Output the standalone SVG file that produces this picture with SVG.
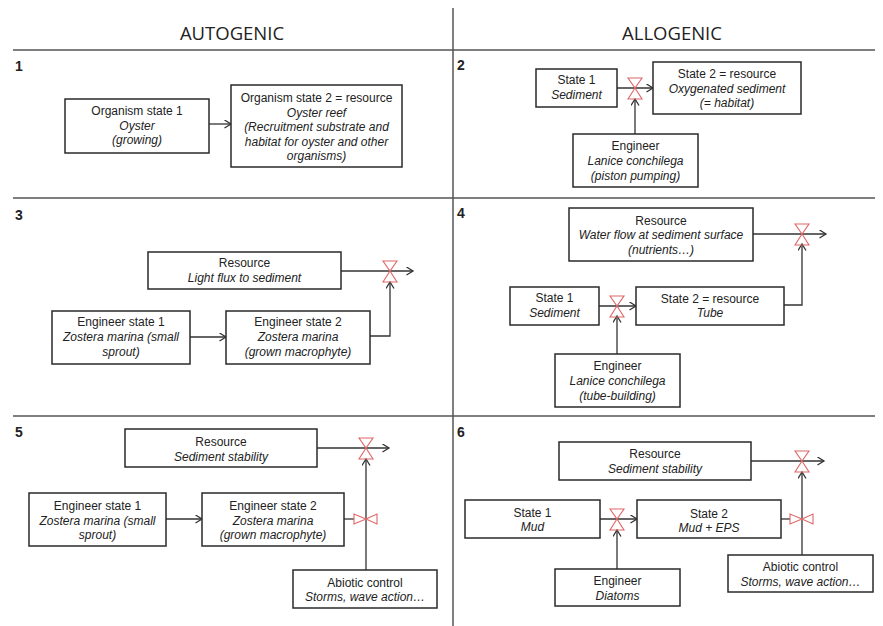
<svg xmlns="http://www.w3.org/2000/svg" xmlns:xlink="http://www.w3.org/1999/xlink" width="883" height="626" viewBox="0 0 883 626">
<style>
.bg{fill:#fff}
.box{fill:#fff;stroke:#2a2a2a;stroke-width:1.5}
.t{font-family:"Liberation Sans",Arial,sans-serif;font-size:12px;fill:#222;text-anchor:middle}
.i{font-style:italic}
.hd{font-family:"Open Sans","Liberation Sans",sans-serif;font-size:18.5px;fill:#222;text-anchor:middle}
.num{font-family:"Liberation Sans",Arial,sans-serif;font-size:14px;font-weight:bold;fill:#222}
.sep{stroke:#555;stroke-width:1.5;fill:none}
.c{stroke:#333;stroke-width:1.3;fill:none}
.a{marker-end:url(#arr)}
.valve{fill:none;stroke:#e06666;stroke-width:1.1}
</style>
<defs>
<marker id="arr" markerWidth="10" markerHeight="10" refX="7" refY="4" orient="auto" markerUnits="userSpaceOnUse">
<path d="M0.5,0 L7,4 L0.5,8" fill="none" stroke="#333" stroke-width="1.3"/>
</marker>
<g id="vv"><path class="valve" d="M-7,-10 L7,-10 L0,0 Z M0,0 L-7,11 L7,11 Z"/></g>
<g id="hv"><path class="valve" d="M-12,-5 L-12,5 L0,0 Z M0,0 L11,-5 L11,5 Z"/></g>
</defs>
<rect class="bg" x="0" y="0" width="883" height="626"/>

<g id="layout">
<line class="sep" x1="453" y1="8" x2="453" y2="626"/>
<line class="sep" x1="13" y1="50" x2="875" y2="50"/>
<line class="sep" x1="13" y1="198" x2="875" y2="198"/>
<line class="sep" x1="13" y1="416" x2="875" y2="416"/>
<text class="hd" x="232" y="40">AUTOGENIC</text>
<text class="hd" x="672" y="40">ALLOGENIC</text>
<text class="num" x="15" y="71">1</text>
<text class="num" x="457" y="70">2</text>
<text class="num" x="15" y="220">3</text>
<text class="num" x="457" y="218">4</text>
<text class="num" x="15" y="437">5</text>
<text class="num" x="457" y="437">6</text>
</g>

<g id="connectors">
<!-- panel 1 -->
<line class="c a" x1="209" y1="124" x2="231" y2="124"/>
<!-- panel 2 -->
<line class="c a" x1="617" y1="88" x2="653" y2="88"/>
<line class="c a" x1="635" y1="134" x2="635" y2="99"/>
<!-- panel 3 -->
<line class="c a" x1="190" y1="337" x2="226" y2="337"/>
<line class="c a" x1="341" y1="271" x2="413" y2="271"/>
<path class="c a" d="M370,336 H390 V282"/>
<!-- panel 4 -->
<line class="c a" x1="753" y1="234" x2="826" y2="234"/>
<line class="c a" x1="599" y1="306" x2="636" y2="306"/>
<path class="c a" d="M784,305 H802 V244"/>
<line class="c a" x1="617" y1="354" x2="617" y2="316"/>
<!-- panel 5 -->
<line class="c a" x1="317" y1="448" x2="389" y2="448"/>
<line class="c a" x1="166" y1="519" x2="202" y2="519"/>
<line class="c" x1="344" y1="519" x2="354" y2="519"/>
<line class="c a" x1="366" y1="570" x2="366" y2="459"/>
<!-- panel 6 -->
<line class="c a" x1="751" y1="461" x2="824" y2="461"/>
<line class="c a" x1="600" y1="519" x2="637" y2="519"/>
<line class="c a" x1="617" y1="569" x2="617" y2="530"/>
<line class="c" x1="781" y1="519" x2="790" y2="519"/>
<line class="c a" x1="802" y1="555" x2="802" y2="472"/>
<!-- valves -->
<use xlink:href="#vv" href="#vv" x="635" y="88"/>
<use xlink:href="#vv" href="#vv" x="390" y="271"/>
<use xlink:href="#vv" href="#vv" x="802" y="234"/>
<use xlink:href="#vv" href="#vv" x="617" y="306"/>
<use xlink:href="#vv" href="#vv" x="366" y="448"/>
<use xlink:href="#hv" href="#hv" x="366" y="519"/>
<use xlink:href="#vv" href="#vv" x="802" y="461"/>
<use xlink:href="#vv" href="#vv" x="617" y="519"/>
<use xlink:href="#hv" href="#hv" x="802" y="519"/>
</g>

<!-- Panel 1 -->
<g id="p1-organism-state-1">
<rect class="box" x="65" y="99" width="144" height="54"/>
<text class="t" x="137" y="115">Organism state 1</text>
<text class="t i" x="137" y="129.5">Oyster</text>
<text class="t i" x="137" y="144">(growing)</text>
</g>
<g id="p1-organism-state-2">
<rect class="box" x="231" y="85" width="171" height="82"/>
<text class="t" x="316.5" y="102">Organism state 2 = resource</text>
<text class="t i" x="316.5" y="116.5">Oyster reef</text>
<text class="t i" x="316.5" y="131">(Recruitment substrate and</text>
<text class="t i" x="316.5" y="145.5">habitat for oyster and other</text>
<text class="t i" x="316.5" y="160">organisms)</text>
</g>

<!-- Panel 2 -->
<g id="p2-state-1">
<rect class="box" x="536" y="69" width="81" height="38"/>
<text class="t" x="576.5" y="84">State 1</text>
<text class="t i" x="576.5" y="99">Sediment</text>
</g>
<g id="p2-state-2">
<rect class="box" x="653" y="62" width="148" height="52"/>
<text class="t" x="727" y="78">State 2 = resource</text>
<text class="t i" x="727" y="92.5">Oxygenated sediment</text>
<text class="t i" x="727" y="107">(= habitat)</text>
</g>
<g id="p2-engineer">
<rect class="box" x="573" y="134" width="125" height="53"/>
<text class="t" x="635.5" y="150">Engineer</text>
<text class="t i" x="635.5" y="165">Lanice conchilega</text>
<text class="t i" x="635.5" y="179.5">(piston pumping)</text>
</g>

<!-- Panel 3 -->
<g id="p3-resource">
<rect class="box" x="148" y="252" width="193" height="37"/>
<text class="t" x="244.5" y="267">Resource</text>
<text class="t i" x="244.5" y="281.5">Light flux to sediment</text>
</g>
<g id="p3-engineer-state-1">
<rect class="box" x="52" y="311" width="138" height="53"/>
<text class="t" x="121" y="326">Engineer state 1</text>
<text class="t i" x="121" y="341">Zostera marina (small</text>
<text class="t i" x="121" y="355.5">sprout)</text>
</g>
<g id="p3-engineer-state-2">
<rect class="box" x="226" y="311" width="144" height="53"/>
<text class="t" x="298" y="326">Engineer state 2</text>
<text class="t i" x="298" y="341">Zostera marina</text>
<text class="t i" x="298" y="355.5">(grown macrophyte)</text>
</g>

<!-- Panel 4 -->
<g id="p4-resource">
<rect class="box" x="569" y="208" width="184" height="53"/>
<text class="t" x="661" y="225">Resource</text>
<text class="t i" x="661" y="239">Water flow at sediment surface</text>
<text class="t i" x="661" y="253.5">(nutrients…)</text>
</g>
<g id="p4-state-1">
<rect class="box" x="510" y="287" width="89" height="38"/>
<text class="t" x="554.5" y="302">State 1</text>
<text class="t i" x="554.5" y="316.5">Sediment</text>
</g>
<g id="p4-state-2">
<rect class="box" x="636" y="287" width="148" height="38"/>
<text class="t" x="710" y="302.5">State 2 = resource</text>
<text class="t i" x="710" y="317">Tube</text>
</g>
<g id="p4-engineer">
<rect class="box" x="555" y="354" width="125" height="53"/>
<text class="t" x="617.5" y="370">Engineer</text>
<text class="t i" x="617.5" y="385">Lanice conchilega</text>
<text class="t i" x="617.5" y="399.5">(tube-building)</text>
</g>

<!-- Panel 5 -->
<g id="p5-resource">
<rect class="box" x="125" y="429" width="192" height="38"/>
<text class="t" x="221" y="446">Resource</text>
<text class="t i" x="221" y="460.5">Sediment stability</text>
</g>
<g id="p5-engineer-state-1">
<rect class="box" x="29" y="493" width="137" height="53"/>
<text class="t" x="97.5" y="510">Engineer state 1</text>
<text class="t i" x="97.5" y="524.5">Zostera marina (small</text>
<text class="t i" x="97.5" y="539">sprout)</text>
</g>
<g id="p5-engineer-state-2">
<rect class="box" x="202" y="493" width="142" height="53"/>
<text class="t" x="273" y="510">Engineer state 2</text>
<text class="t i" x="273" y="524.5">Zostera marina</text>
<text class="t i" x="273" y="539">(grown macrophyte)</text>
</g>
<g id="p5-abiotic-control">
<rect class="box" x="293" y="570" width="144" height="38"/>
<text class="t" x="365" y="587">Abiotic control</text>
<text class="t i" x="365" y="601">Storms, wave action…</text>
</g>

<!-- Panel 6 -->
<g id="p6-resource">
<rect class="box" x="559" y="442" width="192" height="38"/>
<text class="t" x="655" y="458">Resource</text>
<text class="t i" x="655" y="473">Sediment stability</text>
</g>
<g id="p6-state-1">
<rect class="box" x="465" y="500" width="135" height="38"/>
<text class="t" x="532.5" y="517">State 1</text>
<text class="t i" x="532.5" y="531">Mud</text>
</g>
<g id="p6-state-2">
<rect class="box" x="637" y="500" width="144" height="38"/>
<text class="t" x="709" y="518">State 2</text>
<text class="t i" x="709" y="532">Mud + EPS</text>
</g>
<g id="p6-engineer">
<rect class="box" x="555" y="569" width="125" height="37"/>
<text class="t" x="617.5" y="585">Engineer</text>
<text class="t i" x="617.5" y="599.5">Diatoms</text>
</g>
<g id="p6-abiotic-control">
<rect class="box" x="728" y="555" width="145" height="37"/>
<text class="t" x="800.5" y="571">Abiotic control</text>
<text class="t i" x="800.5" y="585.5">Storms, wave action…</text>
</g>
</svg>
